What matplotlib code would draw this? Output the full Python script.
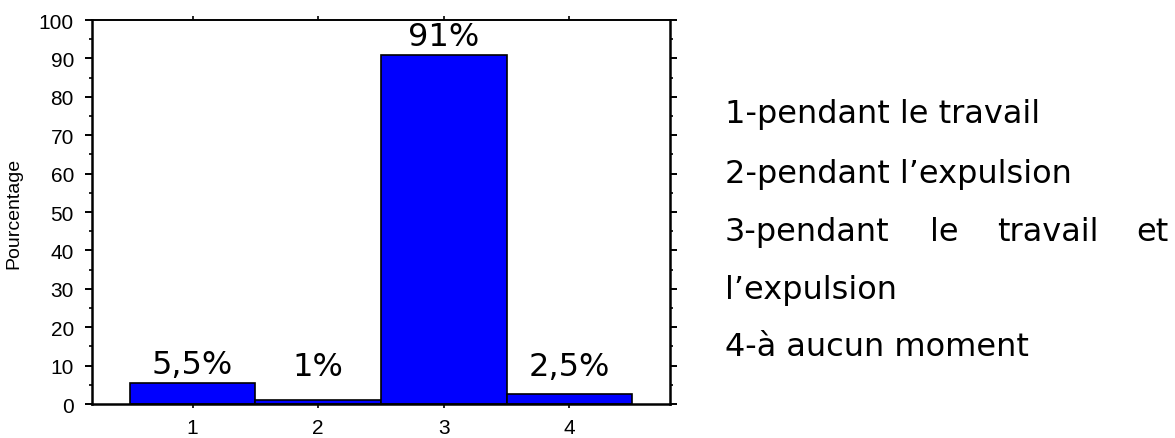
import matplotlib.pyplot as plt
from matplotlib.ticker import MultipleLocator

# Moment de la douleur (pourcentage des parturientes)
categories = [1, 2, 3, 4]
values = [5.5, 1, 91, 2.5]
bar_labels = ['5,5%', '1%', '91%', '2,5%']
legend_lines = ['1-pendant le travail', '2-pendant l\u2019expulsion',
                '3-pendant le travail et', 'l\u2019expulsion', '4-à aucun moment']

fig = plt.figure(figsize=(11.75, 4.39), dpi=100)
ax = fig.add_axes([0.0783, 0.0774, 0.4919, 0.8747])

ax.bar(categories, values, width=1.0, color='#0000ff', edgecolor='black', linewidth=1.2)
# small bars get their label on a common baseline
for x, v, lab in zip(categories, values, bar_labels):
    ax.text(x, max(v, 5) + 0.8, lab, ha='center', va='bottom', fontsize=23,
            family='DejaVu Sans', color='black')

ax.set_xlim(0.2, 4.8)
ax.set_ylim(0, 100)
ax.set_xticks(categories)
ax.yaxis.set_major_locator(MultipleLocator(10))
ax.yaxis.set_minor_locator(MultipleLocator(5))

for s in ax.spines.values():
    s.set_linewidth(1.8)
ax.spines['top'].set_linewidth(1.4)

ax.tick_params(axis='y', which='major', length=5, width=1.4, direction='out',
               left=True, right=True, pad=8, labelsize=15)
ax.tick_params(axis='y', which='minor', length=2.5, width=1.2, direction='out',
               left=True, right=True)
ax.tick_params(axis='x', which='major', length=3, width=1.2, direction='out',
               bottom=True, top=True, pad=7, labelsize=15)
for lab in ax.get_xticklabels() + ax.get_yticklabels():
    lab.set_family('Liberation Sans')

ax.set_ylabel('Pourcentage', fontsize=14, family='Liberation Sans')
ax.yaxis.set_label_coords(-0.121, 0.5)

# legend text on the right, line 3 spread out as justified text
ys = [115, 175, 233, 290, 348]
for i, (line, y) in enumerate(zip(legend_lines, ys)):
    yf = 1 - y / 439
    if i == 2:
        words = line.split()
        for word, xp in zip(words[:3], [725, 930, 997]):
            fig.text(xp / 1175, yf, word, ha='left', va='center', fontsize=23,
                     family='DejaVu Sans')
        fig.text(1168 / 1175, yf, words[3], ha='right', va='center', fontsize=23,
                 family='DejaVu Sans')
    else:
        fig.text(725 / 1175, yf, line, ha='left', va='center', fontsize=23,
                 family='DejaVu Sans')

fig.savefig('out.png', dpi=100)
